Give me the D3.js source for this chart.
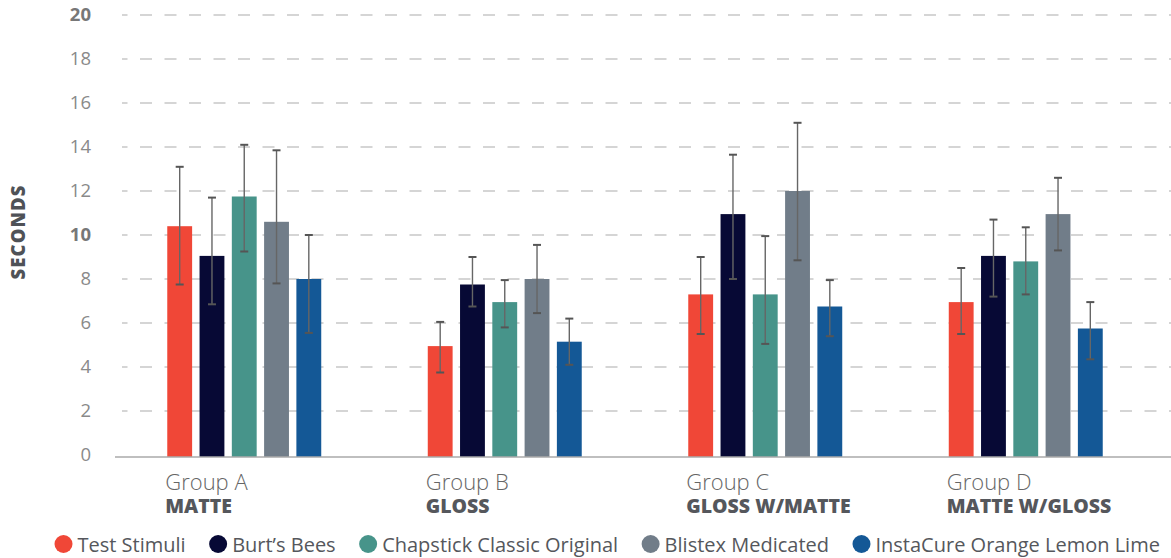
<!DOCTYPE html>
<html>
<head>
<meta charset="utf-8">
<script src="https://cdn.jsdelivr.net/npm/d3@7"></script>
<style>
  body { margin: 0; background: #fff; }
  svg { display: block; font-family: "Open Sans", sans-serif; }
</style>
</head>
<body>
<div id="chart"></div>
<script>
// groups on the x axis
var groups = ["Group A", "Group B", "Group C", "Group D"];
var groupSubs = ["MATTE", "GLOSS", "GLOSS W/MATTE", "MATTE W/GLOSS"];

// products (one bar per group)
var products = ["Test Stimuli", "Burt\u2019s Bees", "Chapstick Classic Original", "Blistex Medicated", "InstaCure Orange Lemon Lime"];
var colors = ["#f04737", "#070935", "#47948a", "#717d89", "#145896"];

// mean seconds, per product, groups A..D
var testStimuli = [10.4, 4.95, 7.3, 6.95];
var burtsBees = [9.05, 7.75, 10.95, 9.05];
var chapstick = [11.75, 6.95, 7.3, 8.8];
var blistex = [10.6, 8.0, 12.0, 10.95];
var instaCure = [8.0, 5.15, 6.75, 5.75];

// error bar ends
var testStimuliHi = [13.1, 6.05, 9.0, 8.5];
var testStimuliLo = [7.75, 3.75, 5.5, 5.5];
var burtsBeesHi = [11.7, 9.0, 13.65, 10.7];
var burtsBeesLo = [6.85, 6.75, 8.0, 7.2];
var chapstickHi = [14.1, 7.95, 9.95, 10.35];
var chapstickLo = [9.25, 5.8, 5.05, 7.3];
var blistexHi = [13.85, 9.55, 15.1, 12.6];
var blistexLo = [7.8, 6.45, 8.85, 9.3];
var instaCureHi = [10.0, 6.2, 7.95, 6.95];
var instaCureLo = [5.55, 4.1, 5.4, 4.35];

var yTicks = [0, 2, 4, 6, 8, 10, 12, 14, 16, 18, 20];

(function() {
  var width = 1171,
    height = 558;

  var means = [testStimuli, burtsBees, chapstick, blistex, instaCure];
  var his = [testStimuliHi, burtsBeesHi, chapstickHi, blistexHi, instaCureHi];
  var los = [testStimuliLo, burtsBeesLo, chapstickLo, blistexLo, instaCureLo];

  var svg = d3.select("#chart")
    .append("svg")
    .attr("width", width)
    .attr("height", height);

  var x0 = d3.scaleBand().domain(groups).range([114, 1156]);
  var x1 = d3.scaleBand().domain(products).range([0, x0.bandwidth()])
    .paddingInner(0.23)
    .paddingOuter(1.65);
  var y = d3.scaleLinear().domain([0, 20]).range([455, 15]);

  // dashed gridlines
  svg.append("g")
    .selectAll("line")
    .data(yTicks.filter(function(d) { return d > 0; }))
    .enter().append("line")
    .attr("x1", 122)
    .attr("x2", width)
    .attr("y1", function(d) { return y(d); })
    .attr("y2", function(d) { return y(d); })
    .attr("stroke", "#c8c8c8")
    .attr("stroke-width", 1.6)
    .attr("stroke-dasharray", "12,12.5")
    .attr("stroke-dashoffset", 6.5);

  // y tick labels
  svg.append("g")
    .selectAll("text")
    .data(yTicks)
    .enter().append("text")
    .attr("x", 91)
    .attr("y", function(d) { return y(d); })
    .attr("dy", "0.35em")
    .attr("text-anchor", "end")
    .attr("font-size", 18.5)
    .attr("font-weight", function(d) { return d % 10 === 0 && d > 0 ? 700 : 400; })
    .attr("fill", function(d) { return d % 10 === 0 && d > 0 ? "#777" : "#8a8a8a"; })
    .text(function(d) { return d; });

  svg.append("text")
    .attr("transform", "translate(25,232) rotate(-90)")
    .attr("text-anchor", "middle")
    .attr("font-size", 18.5)
    .attr("font-weight", 800)
    .attr("letter-spacing", 1.1)
    .attr("fill", "#4f5257")
    .text("SECONDS");

  // bars
  var baseline = y(0) + 2;
  var rows = [];
  groups.forEach(function(g, gi) {
    products.forEach(function(p, pi) {
      rows.push({ group: g, product: p, color: colors[pi], v: means[pi][gi], hi: his[pi][gi], lo: los[pi][gi] });
    });
  });

  svg.append("g")
    .selectAll("rect")
    .data(rows)
    .enter().append("rect")
    .attr("x", function(d) { return x0(d.group) + x1(d.product); })
    .attr("y", function(d) { return y(d.v); })
    .attr("width", x1.bandwidth())
    .attr("height", function(d) { return baseline - y(d.v); })
    .attr("fill", function(d) { return d.color; });

  // axis line
  svg.append("line")
    .attr("x1", 115)
    .attr("x2", width)
    .attr("y1", baseline)
    .attr("y2", baseline)
    .attr("stroke", "#aaa")
    .attr("stroke-width", 1.6);

  // error bars
  var err = svg.append("g")
    .selectAll("g")
    .data(rows)
    .enter().append("g")
    .attr("transform", function(d) {
      return "translate(" + (x0(d.group) + x1(d.product) + x1.bandwidth() / 2) + ",0)";
    });

  err.append("line")
    .attr("y1", function(d) { return y(d.hi); })
    .attr("y2", function(d) { return y(d.lo); })
    .attr("stroke", "#666")
    .attr("stroke-width", 1.4);

  err.append("line")
    .attr("x1", -4).attr("x2", 4)
    .attr("y1", function(d) { return y(d.hi); })
    .attr("y2", function(d) { return y(d.hi); })
    .attr("stroke", "#555")
    .attr("stroke-width", 2);

  err.append("line")
    .attr("x1", -4).attr("x2", 4)
    .attr("y1", function(d) { return y(d.lo); })
    .attr("y2", function(d) { return y(d.lo); })
    .attr("stroke", "#555")
    .attr("stroke-width", 2);

  // group labels
  var labels = svg.append("g")
    .selectAll("g")
    .data(groups)
    .enter().append("g")
    .attr("transform", function(d) {
      return "translate(" + (x0(d) + x1(products[0]) - 2) + ",0)";
    });

  labels.append("text")
    .attr("y", 490)
    .attr("font-size", 22)
    .attr("font-weight", 300)
    .attr("fill", "#666")
    .text(function(d) { return d; });

  labels.append("text")
    .attr("y", 513)
    .attr("font-size", 19.5)
    .attr("font-weight", 800)
    .attr("fill", "#55575c")
    .text(function(d, i) { return groupSubs[i]; });

  // legend, laid out left to right
  var legend = svg.append("g");
  var lx = 54.5;
  products.forEach(function(p, i) {
    legend.append("circle")
      .attr("cx", lx + 9)
      .attr("cy", 544)
      .attr("r", 9)
      .attr("fill", colors[i]);
    var t = legend.append("text")
      .attr("x", lx + 23)
      .attr("y", 552)
      .attr("font-size", 20)
      .attr("fill", "#55575c")
      .text(p);
    lx += 23 + t.node().getComputedTextLength() + 23.5;
  });

})();
</script>
</body>
</html>
